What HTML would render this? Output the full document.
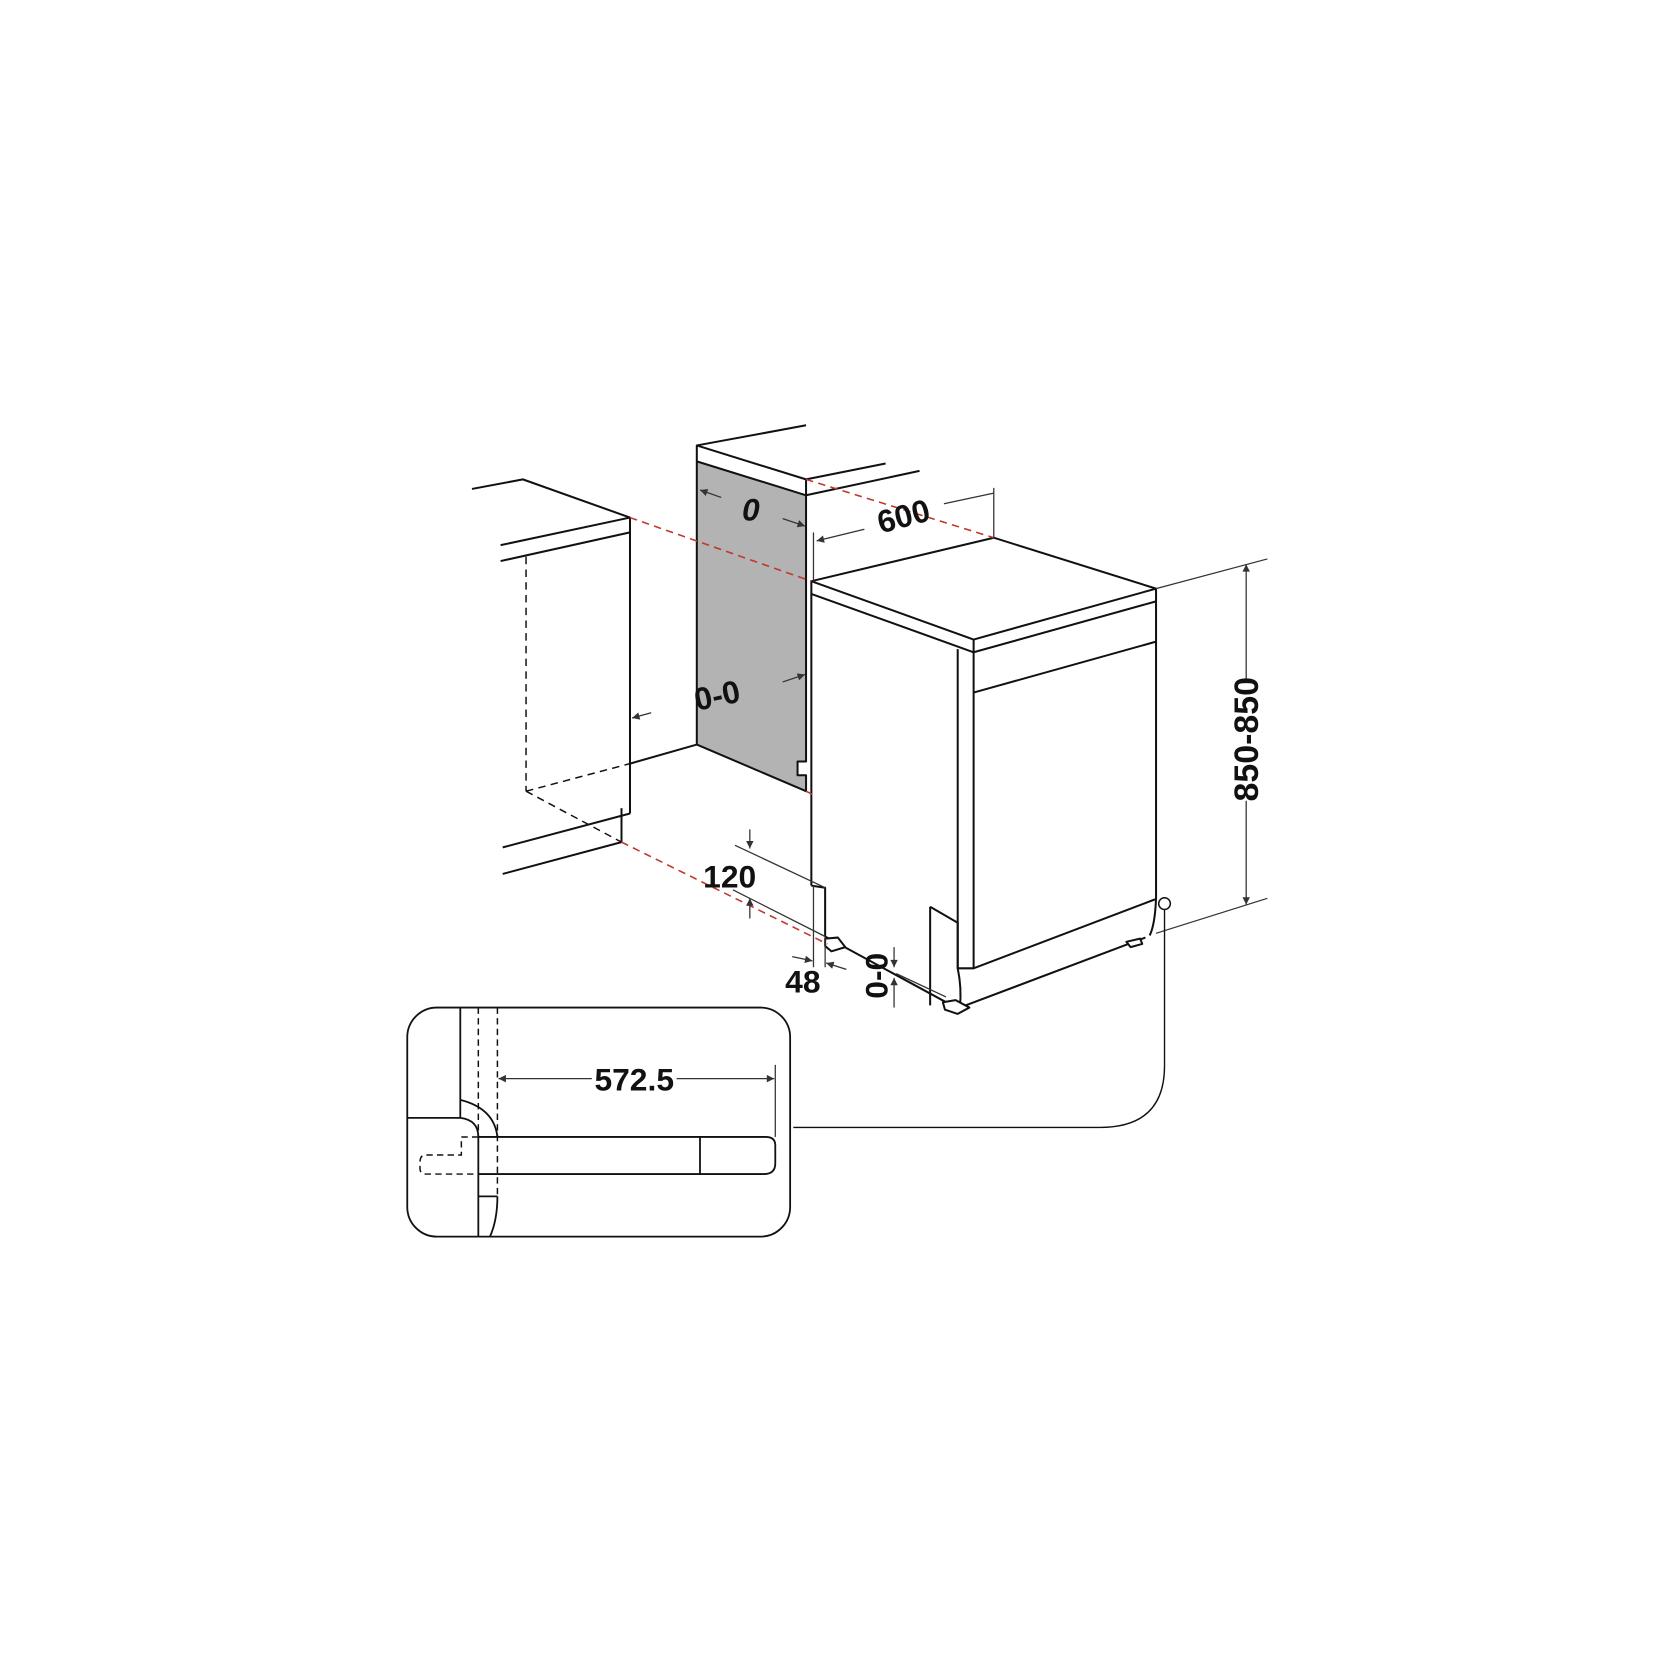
<!DOCTYPE html>
<html><head><meta charset="utf-8"><style>html,body{margin:0;padding:0;background:#fff}svg{display:block}</style></head>
<body>
<svg width="1663" height="1663" viewBox="0 0 1568 1568" xmlns="http://www.w3.org/2000/svg">
<defs>
<marker id="a" viewBox="0 0 10 10" refX="10" refY="5" markerWidth="9" markerHeight="7" orient="auto-start-reverse" markerUnits="userSpaceOnUse"><path d="M0,0 L10,5 L0,10 z" fill="#333"/></marker>
</defs>
<g fill="none" stroke="#111" stroke-width="1.9" stroke-linejoin="round">
<polyline points="445,461 493,452 594,488 472,514"/>
<line x1="472" y1="529" x2="594" y2="502"/>
<line x1="594" y1="488" x2="594" y2="767"/>
<line x1="474" y1="799" x2="594" y2="767"/>
<line x1="474" y1="824" x2="586" y2="794"/>
<line x1="586" y1="794" x2="586" y2="762"/>
<g stroke-dasharray="7,5" stroke-width="1.4">
<line x1="496" y1="525" x2="496" y2="746"/>
<line x1="496" y1="746" x2="594" y2="720"/>
<line x1="496" y1="746" x2="586" y2="794"/>
</g>
<line x1="594" y1="720" x2="657" y2="702"/>
<polygon points="657,435 760,467 760,718 752,718 752,731 760,731 760,746 657,702" fill="#b3b3b3"/>
<polyline points="657,435 657,420 760,452 760,467"/>
<line x1="657" y1="420" x2="760" y2="401"/>
<line x1="760" y1="452" x2="835" y2="437"/>
<line x1="760" y1="467" x2="867" y2="444"/>
<polygon points="765,548 937,507 1090,555 918,603"/>
<polyline points="765,548 765,560 918,615 1090,567 1090,555"/>
<line x1="918" y1="603" x2="918" y2="615"/>
<line x1="918" y1="653" x2="1090" y2="605"/>
<path d="M903,612 L903,913 L918,913 L918,615"/>
<path d="M1090,567 L1090,847 Q1089,872 1084,882"/>
<line x1="918" y1="913" x2="1089" y2="848"/>
<line x1="905" y1="950" x2="1080" y2="884"/>
<line x1="765" y1="560" x2="765" y2="835"/>
<path d="M765,835 L778,837 L778,883 L905,952 L912,950"/>
<path d="M877,855 L877,948 M877,855 L903,870 L903,913"/>
<path d="M903,913 Q907,932 905,950"/>
<path d="M778,885 L790,884 L797,893 L784,897 L778,892 Z" fill="#fff"/>
<path d="M889,945 L901,943 L914,950 L903,956 L891,952 Z" fill="#fff"/>
<path d="M1062,888 L1075,885 L1077,890 L1066,893 Z" fill="#fff"/>
</g>
<g stroke="#c0392b" stroke-width="1.5" stroke-dasharray="7,5" fill="none">
<line x1="594" y1="488" x2="765" y2="548"/>
<line x1="760" y1="452" x2="937" y2="507"/>
<line x1="586" y1="794" x2="780" y2="890"/>
<line x1="760" y1="746" x2="766" y2="749"/>
</g>
<g stroke="#333" stroke-width="1.2" fill="none">
<line x1="937" y1="460" x2="937" y2="507"/>
<line x1="767" y1="502" x2="767" y2="548"/>
<line x1="815" y1="499" x2="770" y2="510" marker-end="url(#a)"/>
<line x1="890" y1="475" x2="937" y2="465"/>
<line x1="680" y1="469" x2="660" y2="462" marker-end="url(#a)"/>
<line x1="738" y1="489" x2="759" y2="496" marker-end="url(#a)"/>
<line x1="738" y1="643" x2="759" y2="636" marker-end="url(#a)"/>
<line x1="614" y1="672" x2="596" y2="677" marker-end="url(#a)"/>
<line x1="1090" y1="555" x2="1195" y2="527"/>
<line x1="1090" y1="880" x2="1195" y2="847"/>
<line x1="1175" y1="640" x2="1175" y2="532" marker-end="url(#a)"/>
<line x1="1175" y1="755" x2="1175" y2="853" marker-end="url(#a)"/>
<line x1="693" y1="797" x2="778" y2="837"/>
<line x1="691" y1="839" x2="778" y2="883"/>
<line x1="707" y1="782" x2="707" y2="800" marker-end="url(#a)"/>
<line x1="707" y1="866" x2="707" y2="847" marker-end="url(#a)"/>
<line x1="767" y1="835" x2="767" y2="912"/>
<line x1="778" y1="883" x2="778" y2="912"/>
<line x1="747" y1="902" x2="766" y2="906" marker-end="url(#a)"/>
<line x1="798" y1="914" x2="779" y2="908" marker-end="url(#a)"/>
<line x1="845" y1="918" x2="892" y2="940"/>
<line x1="843" y1="893" x2="843" y2="912" marker-end="url(#a)"/>
<line x1="843" y1="950" x2="843" y2="922" marker-end="url(#a)"/>
<circle cx="1098" cy="852" r="5.5" fill="#fff" stroke="#111" stroke-width="1.4"/>
<path d="M1098,858 L1098,1005 Q1098,1063 1037,1063 L748,1063" stroke="#111" stroke-width="1.3"/>
</g>
<g fill="none" stroke="#111" stroke-width="1.7">
<rect x="384" y="950" width="361" height="216" rx="28"/>
<path d="M434,950 L434,1054 L384,1054"/>
<path d="M434,1054 Q451,1056 451,1072 L451,1166"/>
<path d="M434,1037 Q466,1045 469,1072"/>
<path d="M451,1072 L722,1072 Q731,1072 731,1080 L731,1097 Q731,1107 720,1107 L451,1107"/>
<line x1="660" y1="1072" x2="660" y2="1107"/>
<line x1="451" y1="1128" x2="469" y2="1128"/>
<path d="M469,1128 Q469,1150 462,1166"/>
<g stroke-dasharray="6,4" stroke-width="1.4">
<line x1="451" y1="950" x2="451" y2="1072"/>
<line x1="469" y1="950" x2="469" y2="1128"/>
<path d="M451,1072 L435,1072 L435,1089 L400,1089 Q396,1090 396,1096 L396,1102 Q396,1107 402,1107 L451,1107"/>
</g>
</g>
<g stroke="#333" stroke-width="1.2">
<line x1="731" y1="1004" x2="731" y2="1072"/>
<line x1="558" y1="1017" x2="470" y2="1017" marker-end="url(#a)"/>
<line x1="638" y1="1017" x2="730" y2="1017" marker-end="url(#a)"/>
</g>
<g font-family="'Liberation Sans', sans-serif" font-weight="bold" font-size="30" fill="#111" text-anchor="middle">
<text x="852" y="497" transform="rotate(-15 852 487)">600</text>
<text x="708" y="491" font-style="italic">0</text>
<text x="676" y="666" transform="rotate(-12 676 655)">0-0</text>
<text x="1175" y="708" font-size="32" transform="rotate(-90 1175 697)">850-850</text>
<text x="688" y="837">120</text>
<text x="757" y="936">48</text>
<text x="826" y="931" transform="rotate(-90 826 920)">0-0</text>
<text x="598" y="1028">572.5</text>
</g>
</svg>
</body></html>
